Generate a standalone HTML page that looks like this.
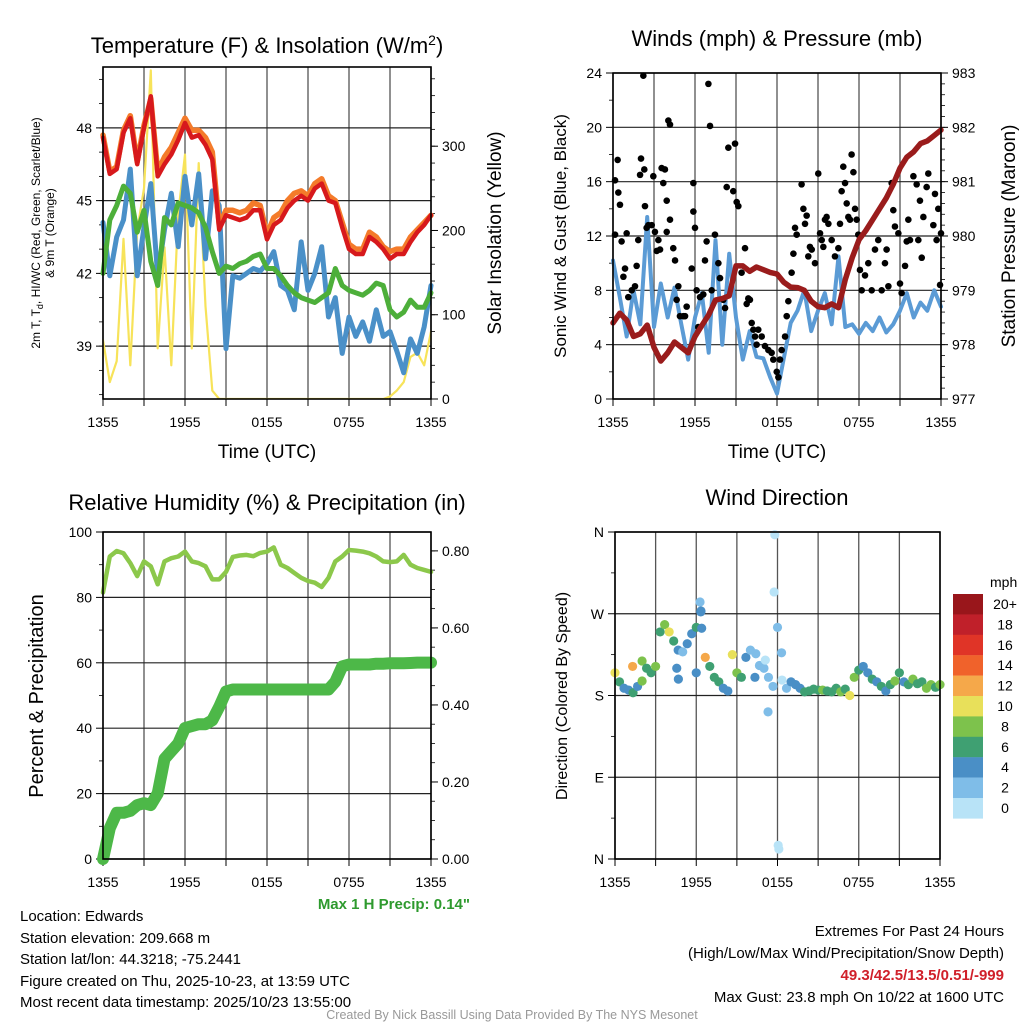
<!DOCTYPE html>
<html><head><meta charset="utf-8"><style>
body{margin:0;background:#fff;}
svg{display:block;font-family:"Liberation Sans",sans-serif;}
</style></head><body>
<svg id="c" width="1024" height="1024" viewBox="0 0 1024 1024" xmlns="http://www.w3.org/2000/svg">
<g id="txt">
<text x="267" y="53" font-size="22" text-anchor="middle">Temperature (F) &amp; Insolation (W/m<tspan dy="-8" font-size="14">2</tspan><tspan dy="8">)</tspan></text>
<text x="777" y="46" font-size="22" text-anchor="middle">Winds (mph) &amp; Pressure (mb)</text>
<text x="267" y="510" font-size="22" text-anchor="middle">Relative Humidity (%) &amp; Precipitation (in)</text>
<text x="777" y="505" font-size="22" text-anchor="middle">Wind Direction</text>
<text transform="translate(40,233) rotate(-90)" font-size="12" text-anchor="middle">2m T, T<tspan dy="3" font-size="9">d</tspan><tspan dy="-3">, HI/WC (Red, Green, Scarlet/Blue)</tspan></text>
<text transform="translate(54,233) rotate(-90)" font-size="12" text-anchor="middle">&amp; 9m T (Orange)</text>
<text transform="translate(501,233) rotate(-90)" font-size="19" text-anchor="middle">Solar Insolation (Yellow)</text>
<text transform="translate(566,236) rotate(-90)" font-size="17" text-anchor="middle">Sonic Wind &amp; Gust (Blue, Black)</text>
<text transform="translate(1015,236) rotate(-90)" font-size="19" text-anchor="middle">Station Pressure (Maroon)</text>
<text transform="translate(43,696) rotate(-90)" font-size="20" text-anchor="middle">Percent &amp; Precipitation</text>
<text transform="translate(567,696) rotate(-90)" font-size="16" text-anchor="middle">Direction (Colored By Speed)</text>
<text x="267" y="458" font-size="19" text-anchor="middle">Time (UTC)</text>
<text x="777" y="458" font-size="19" text-anchor="middle">Time (UTC)</text>
<text x="470" y="909" font-size="15" font-weight="bold" fill="#2e9a2e" text-anchor="end">Max 1 H Precip: 0.14"</text>
<g font-size="15">
<text x="20" y="921">Location: Edwards</text>
<text x="20" y="943">Station elevation: 209.668 m</text>
<text x="20" y="964">Station lat/lon: 44.3218; -75.2441</text>
<text x="20" y="986">Figure created on Thu, 2025-10-23, at 13:59 UTC</text>
<text x="20" y="1007">Most recent data timestamp: 2025/10/23 13:55:00</text>
</g>
<g font-size="15" text-anchor="end">
<text x="1004" y="936">Extremes For Past 24 Hours</text>
<text x="1004" y="958">(High/Low/Max Wind/Precipitation/Snow Depth)</text>
<text x="1004" y="980" fill="#d0202a" font-weight="bold">49.3/42.5/13.5/0.51/-999</text>
<text x="1004" y="1002">Max Gust: 23.8 mph On 10/22 at 1600 UTC</text>
</g>
<text x="512" y="1019" font-size="12.5" fill="#999" text-anchor="middle">Created By Nick Bassill Using Data Provided By The NYS Mesonet</text>
<text x="990" y="587" font-size="14">mph</text>
</g>
</svg>
<script>
// ---- data (half-hourly, 0..24h) ----
const timeLabels = ["1355","1955","0155","0755","1355"];
const tempRed = [47.6,46.1,46.3,47.8,48.4,46.5,48.0,49.3,46.0,46.5,46.9,47.5,48.2,47.6,47.7,47.3,46.7,43.8,44.4,44.3,44.2,44.3,44.6,44.6,43.4,44.0,44.2,44.7,45.0,45.2,45.0,45.5,45.7,45.0,44.9,43.9,43.0,42.8,42.8,43.5,43.3,43.0,42.6,42.8,42.8,43.3,43.7,44.0,44.4];
const temp9m = [47.7,46.2,46.4,47.9,48.5,46.6,48.1,49.2,46.2,46.8,47.2,47.8,48.4,47.9,47.9,47.6,47.0,44.0,44.6,44.6,44.5,44.6,44.9,44.8,43.6,44.3,44.5,45.0,45.3,45.4,45.2,45.7,45.9,45.2,45.0,44.1,43.2,43.0,43.0,43.7,43.5,43.1,42.9,43.0,43.0,43.5,43.8,44.1,44.4];
const dewGreen = [42.0,44.2,44.8,45.6,45.3,43.7,44.6,42.5,41.5,44.3,44.0,44.9,44.8,44.7,44.5,43.9,42.9,42.0,42.3,42.2,42.4,42.5,42.7,42.8,42.2,42.2,41.9,41.5,41.2,41.0,40.9,40.8,41.0,41.2,42.2,41.5,41.3,41.2,41.1,41.3,41.6,41.5,40.5,40.2,40.4,40.9,40.6,40.6,41.2];
const chillBlue = [44.1,41.9,43.5,44.2,46.3,41.9,43.9,45.7,41.9,43.8,45.3,43.1,46.0,44.0,46.1,42.6,45.4,44.8,38.9,41.9,41.8,42.0,42.2,42.1,42.4,42.9,41.5,41.3,40.5,43.3,41.3,42.0,43.1,40.2,41.0,38.7,40.2,39.4,40.0,39.2,40.5,39.4,39.6,38.8,37.9,39.3,38.7,39.8,41.5];
const solar = [70,20,45,190,40,200,250,390,60,180,40,220,290,60,280,110,10,0,0,0,0,0,0,0,0,0,0,0,0,0,0,0,0,0,0,0,0,0,0,0,0,0,3,10,20,50,55,40,80];
const windSpeed = [10.2,7.5,4.6,8.0,5.5,13.4,5.3,8.5,6.0,8.2,5.5,2.9,6.0,7.8,3.4,11.7,4.0,10.7,6.0,2.9,5.0,3.1,3.0,1.6,0.4,3.0,5.6,6.5,8.0,5.0,6.5,7.8,5.5,10.5,5.3,5.5,4.8,5.6,5.0,6.0,4.9,5.5,6.5,7.8,6.0,7.1,6.5,8.0,6.8];
const pressure = [978.40,978.58,978.45,978.15,978.20,978.36,977.95,977.70,977.85,978.05,977.95,977.85,978.15,978.35,978.55,978.82,978.85,978.90,979.45,979.45,979.35,979.43,979.38,979.33,979.30,979.15,979.06,979.05,979.00,978.80,978.70,978.68,978.75,978.68,979.20,979.60,979.93,980.10,980.30,980.50,980.70,980.95,981.25,981.45,981.55,981.70,981.75,981.85,981.95];
const gustHours = [0.15,0.15,0.34,0.39,0.51,0.63,0.76,0.88,1.0,1.12,1.37,1.61,1.73,1.85,2.05,1.98,2.22,2.29,2.34,2.46,2.59,2.83,2.95,3.07,3.2,3.32,3.44,3.56,3.68,3.8,3.93,3.93,4.17,4.05,4.17,4.41,4.54,4.66,4.78,4.9,5.15,5.27,5.39,5.76,5.88,5.88,6.0,6.12,6.24,6.37,6.61,6.73,6.85,6.98,7.1,7.22,7.46,7.71,7.83,8.07,8.2,8.32,8.44,8.8,8.93,9.05,9.17,9.41,9.66,9.78,9.9,10.02,10.15,10.27,10.39,10.51,10.63,10.88,11.12,11.37,11.61,11.73,11.98,12.1,12.22,12.34,12.59,12.71,12.83,13.07,13.2,13.32,13.44,13.8,13.93,14.05,14.17,14.29,14.41,14.54,14.78,15.02,15.15,15.27,15.39,15.51,15.63,15.76,16.0,16.24,16.49,16.61,16.73,16.85,16.98,17.1,17.22,17.34,17.46,17.59,17.71,17.83,17.95,18.07,18.2,18.44,18.68,18.93,19.17,19.41,19.66,19.9,20.02,20.15,20.39,20.51,20.63,20.88,21.0,21.12,21.37,21.49,21.61,21.73,21.98,22.22,22.34,22.46,22.59,22.71,22.95,23.07,23.44,23.56,23.68,23.8,23.93,24.0];
const gustMph = [12.1,16.1,17.6,15.2,14.3,11.6,9.0,9.6,12.2,7.5,8.0,8.3,9.8,11.7,17.7,16.5,23.8,16.9,14.2,12.6,12.8,12.8,16.4,12.3,10.9,11.7,11.0,17.0,15.9,16.9,14.6,12.3,13.2,20.5,20.2,11.1,10.2,7.3,8.3,6.1,6.1,6.1,6.8,9.6,15.9,13.8,12.6,8.0,5.3,7.5,7.7,10.2,11.6,23.2,20.1,8.0,12.1,10.0,8.9,7.3,6.7,15.6,18.5,15.3,18.8,14.5,14.2,9.3,11.1,7.0,7.4,7.3,5.6,5.1,4.6,4.0,5.1,4.6,3.9,3.6,3.4,2.9,2.0,1.6,2.9,3.6,4.6,6.1,7.2,9.3,10.7,12.6,12.1,15.8,14.0,12.9,13.5,10.5,11.2,11.0,10.0,16.6,12.2,11.7,11.2,13.2,13.4,12.9,11.7,10.5,11.1,12.9,15.3,17.1,15.9,14.4,13.4,13.2,18.0,16.7,14.0,13.2,12.1,9.5,8.0,9.1,10.0,8.0,11.0,11.7,8.0,10.0,11.0,8.3,15.9,13.9,12.7,12.2,8.5,7.8,9.8,11.6,13.2,11.7,16.4,15.8,11.7,14.6,10.4,13.4,15.6,16.6,12.8,15.1,11.7,14.0,8.4,12.2];
const relHum = [81.5,92.5,94.2,93.5,90.5,86.5,91,89.5,84,91,92,92.5,94,91,90.5,89.5,85.5,85.5,87.8,92.4,92.8,93,92.6,93.6,94,95.3,90,89,87.5,86,85,84.5,83.2,86,91,92.5,94.5,94.3,94,93.5,92.5,91,90.8,91,93,90,89,88.4,87.8];
const precip = [0,0.08,0.12,0.12,0.125,0.14,0.145,0.14,0.17,0.26,0.28,0.30,0.34,0.345,0.35,0.35,0.36,0.395,0.435,0.44,0.44,0.44,0.44,0.44,0.44,0.44,0.44,0.44,0.44,0.44,0.44,0.44,0.44,0.44,0.46,0.50,0.505,0.505,0.505,0.505,0.507,0.507,0.508,0.508,0.508,0.509,0.51,0.51,0.51];
// wind direction: every 20 min, 0..24h
const dirDeg = [205,195,188,186,183,190,218,210,205,212,250,258,250,240,230,228,237,248,255,272,222,212,200,195,188,185,225,205,200,222,230,200,213,210,200,190,255,197,188,195,192,188,184,185,187,186,186,185,184,188,184,187,180,200,208,212,205,198,195,190,185,192,196,205,195,192,198,193,195,188,192,189,192];
const dirSpeed = [10.5,7,5,4.5,7,5,8.5,6.5,7,8.5,7,8.5,10.5,6.5,4.5,3.5,4.5,5,7,4.5,12.5,6.5,6.5,7,4.5,4.5,10.5,8.5,7,4.5,3.5,4.5,3.5,3.5,3.5,2.5,2.5,1.5,3.5,4.5,4.5,4.5,7,7,6.5,7,8.5,7,6.5,7,8.5,7,10.5,8.5,7,4.5,4.5,7,4.5,6.5,4.5,7,8.5,7,4.5,7,8.5,7,7,8.5,9,7,8.5];
const extraDirHours = [11.8,11.75,12.05,12.1,11.3,6.28,6.35,6.4,4.56,4.68,6.0,12.3,11.1,10.4,2.0,1.3];
const extraDirDeg = [357,294,15,11,162,283,273,254,210,198,205,227,219,226,196,212];
const extraDirSpeed = [1,1,1,1,3,3,5,5,5,5,5,3,1,3,8.5,12.5];
const cbLabels = ["20+","18","16","14","12","10","8","6","4","2","0"];
const cbColors = ["#99161b","#c0202a","#e03427","#f0622b","#f5a84a","#e8e05a","#7dc24c","#3fa072","#4a8fc6","#7fbde8","#b8e3f7"];

const NS="http://www.w3.org/2000/svg";
const svg=document.getElementById('c');
function mk(tag,attrs,parent){const e=document.createElementNS(NS,tag);for(const k in attrs)e.setAttribute(k,attrs[k]);(parent||svg).appendChild(e);return e;}
function lin(d0,d1,r0,r1){return v=>r0+(v-d0)/(d1-d0)*(r1-r0);}
function halfHours(n){const a=[];for(let i=0;i<n;i++)a.push(i*24/(n-1));return a;}

function frame(P,name){
  const g=mk('g',{});
  
  
  // vertical grid every 3h
  for(let h=0;h<=24;h+=3){const x=P.x(h);
    const l=mk('line',{x1:x,x2:x,y1:P.y0,y2:P.y1,stroke:'#555','stroke-width':1.3},g);
    
    const t=mk('line',{x1:x,x2:x,y1:P.y1,y2:P.y1+7,stroke:'#000','stroke-width':1},g);
    
  }
  for(let i=0;i<5;i++){const tx=mk('text',{x:P.x(i*6),y:P.y1+28,'font-size':14,'text-anchor':'middle'},g);tx.textContent=timeLabels[i];
    }
  return g;
}
function yAxis(g,P,scale,ticks,labels,side,minor){
  const xa= side==='l'?P.x0:P.x1, dir= side==='l'?-1:1;
  ticks.forEach((v,i)=>{const y=scale(v);
    if(side==='l'||P.gridRight){const gl=mk('line',{x1:P.x0,x2:P.x1,y1:y,y2:y,stroke:'#222','stroke-width':1.2},g);
      }
    const t=mk('line',{x1:xa,x2:xa+dir*7,y1:y,y2:y,stroke:'#000','stroke-width':1},g);
    
    const tx=mk('text',{x:xa+dir*11,y:y+5,'font-size':14,'text-anchor':side==='l'?'end':'start'},g);tx.textContent=labels[i];
    
  });
  minor.forEach(v=>{const y=scale(v);const t=mk('line',{x1:xa,x2:xa+dir*4,y1:y,y2:y,stroke:'#000','stroke-width':0.8},g);
    });
}
function border(P,name){const r=mk('rect',{x:P.x0,y:P.y0,width:P.x1-P.x0,height:P.y1-P.y0,fill:'none',stroke:'#000','stroke-width':1.6});
  }
function poly(xs,ys,xf,yf,style,name){
  const pts=xs.map((h,i)=>xf(h).toFixed(1)+','+yf(ys[i]).toFixed(1)).join(' ');
  const p=mk('polyline',Object.assign({points:pts,fill:'none','stroke-linejoin':'round','stroke-linecap':'round'},style));
  return p;}
function range(a,b,s){const r=[];for(let v=a;v<=b+1e-9;v+=s)r.push(+v.toFixed(3));return r;}
function clip(P,id){const cp=mk('clipPath',{id:id});mk('rect',{x:P.x0,y:P.y0,width:P.x1-P.x0,height:P.y1-P.y0},cp);}

// ---- Panel 1 ----
const P1={x0:103,x1:431,y0:67,y1:399};P1.x=lin(0,24,P1.x0,P1.x1);
const yT=lin(36.82,50.51,P1.y1,P1.y0), yS=lin(0,394,P1.y1,P1.y0);
let g1=frame(P1,'temperature-panel');
yAxis(g1,P1,yT,[39,42,45,48],["39","42","45","48"],'l',range(37,50,1));
yAxis(g1,P1,yS,[0,100,200,300],["0","100","200","300"],'r',range(20,380,20));
clip(P1,'c1');
const hh=halfHours(49);
poly(hh,solar,P1.x,yS,{stroke:'#f7e35a','stroke-width':2.2,'clip-path':'url(#c1)'},'solar-line');
poly(hh,chillBlue,P1.x,yT,{stroke:'#4a90c8','stroke-width':5},'windchill-line');
poly(hh,dewGreen,P1.x,yT,{stroke:'#4daf3a','stroke-width':5},'dewpoint-line');
poly(hh,temp9m,P1.x,yT,{stroke:'#f47b2a','stroke-width':5.5},'temp-9m-line');
poly(hh,tempRed,P1.x,yT,{stroke:'#d7191c','stroke-width':4.5},'temp-2m-line');
border(P1,'temperature-plot-border');

// ---- Panel 2 ----
const P2={x0:613,x1:941,y0:73,y1:399};P2.x=lin(0,24,P2.x0,P2.x1);
const yW=lin(0,24,P2.y1,P2.y0), yP=lin(977,983,P2.y1,P2.y0);
let g2=frame(P2,'wind-panel');
yAxis(g2,P2,yW,[0,4,8,12,16,20,24],["0","4","8","12","16","20","24"],'l',range(2,22,4));
yAxis(g2,P2,yP,[977,978,979,980,981,982,983],["977","978","979","980","981","982","983"],'r',range(977.2,982.8,0.2));
poly(hh,windSpeed,P2.x,yW,{stroke:'#5b9bd5','stroke-width':4},'sonic-wind-line');
gustHours.forEach((h,i)=>{const c=mk('circle',{cx:P2.x(h),cy:yW(gustMph[i]),r:3.3,fill:'#000'});
  });
poly(hh,pressure,P2.x,yP,{stroke:'#9a1c1c','stroke-width':5.5},'pressure-line');
border(P2,'wind-plot-border');

// ---- Panel 3 ----
const P3={x0:103,x1:431,y0:532,y1:859};P3.x=lin(0,24,P3.x0,P3.x1);
const yR=lin(0,100,P3.y1,P3.y0), yPr=lin(0,0.849,P3.y1,P3.y0);
let g3=frame(P3,'humidity-panel');
yAxis(g3,P3,yR,[0,20,40,60,80,100],["0","20","40","60","80","100"],'l',range(10,90,20));
yAxis(g3,P3,yPr,[0,0.2,0.4,0.6,0.8],["0.00","0.20","0.40","0.60","0.80"],'r',range(0.05,0.8,0.05));
poly(hh,relHum,P3.x,yR,{stroke:'#8cc84b','stroke-width':4.5},'rh-line');
poly(hh,precip,P3.x,yPr,{stroke:'#4db848','stroke-width':12},'precip-line');
border(P3,'humidity-plot-border');

// ---- Panel 4 ----
const P4={x0:615,x1:940,y0:532,y1:859};P4.x=lin(0,24,P4.x0,P4.x1);
const yD=lin(0,360,P4.y1,P4.y0);
let g4=frame(P4,'direction-panel');
yAxis(g4,P4,yD,[0,90,180,270,360],["N","E","S","W","N"],'l',[45,135,225,315]);
function spdColor(s){const idx=Math.min(10,Math.floor(s/2));return cbColors[10-idx];}
const dh=halfHours(dirDeg.length);
dirDeg.forEach((d,i)=>{const c=mk('circle',{cx:P4.x(dh[i]),cy:yD(d),r:4.6,fill:spdColor(dirSpeed[i])});
  });
extraDirDeg.forEach((d,i)=>{const c=mk('circle',{cx:P4.x(extraDirHours[i]),cy:yD(d),r:4.6,fill:spdColor(extraDirSpeed[i])});
  });
border(P4,'direction-plot-border');

// colorbar
const cb=mk('g',{});


cbLabels.forEach((lab,i)=>{const y=594+i*20.4;
  const r=mk('rect',{x:953,y:y,width:30,height:20.6,fill:cbColors[i]},cb);
  
  const t=mk('text',{x:1005,y:y+15,'font-size':14,'text-anchor':'middle'},cb);t.textContent=lab;
  
});
</script>
</body></html>
